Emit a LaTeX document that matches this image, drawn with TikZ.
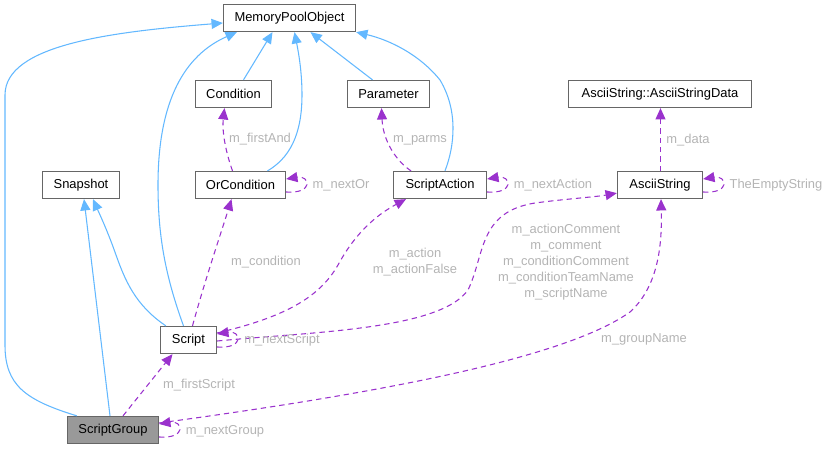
\documentclass[tikz,border=0pt]{standalone}
\usepackage{fontspec}
\setmainfont{Liberation Sans}
\usepackage{tikz}
\usetikzlibrary{arrows.meta,calc}
\usepackage{xcolor}
\definecolor{inhblue}{HTML}{63B8FF}
\definecolor{usepurple}{HTML}{9A32CD}
\definecolor{boxgray}{HTML}{666666}
\definecolor{lblgray}{HTML}{B4B4B4}
\definecolor{maingray}{HTML}{999999}

\begin{document}
\begin{tikzpicture}[x=0.75pt, y=-0.75pt,
    cls/.style={draw=boxgray, line width=0.95pt, fill=white, inner sep=0pt,
        minimum height=20.25pt, font=\fontsize{9.7}{11.6}\selectfont},
    inh/.style={draw=inhblue, line width=0.8pt, -{Triangle[length=8.5pt, width=7.5pt]}},
    usage/.style={draw=usepurple, line width=0.8pt, dash pattern=on 4pt off 3pt,
        -{Triangle[length=8.5pt, width=7.5pt]}},
    lbl/.style={text=lblgray, font=\fontsize{9.7}{12}\selectfont, align=center, inner sep=0pt}]
    \useasboundingbox (0,0) rectangle (829,449);

    \node[cls, minimum width=99pt] (mpo) at (289.5,18) {MemoryPoolObject};
    \node[cls, minimum width=57pt] (cond) at (233.5,94) {Condition};
    \node[cls, minimum width=61.5pt] (param) at (388.5,94) {Parameter};
    \node[cls, minimum width=137.25pt] (asdata) at (660,94) {AsciiString::AsciiStringData};
    \node[cls, minimum width=57.75pt] (snap) at (81,185) {Snapshot};
    \node[cls, minimum width=67.5pt] (orcond) at (240.5,185) {OrCondition};
    \node[cls, minimum width=69.75pt] (saction) at (440,185) {ScriptAction};
    \node[cls, minimum width=63.75pt] (astr) at (660,185) {AsciiString};
    \node[cls, minimum width=42pt] (script) at (188.5,340) {Script};
    \node[cls, minimum width=68.25pt, fill=maingray] (sgroup) at (113,430) {ScriptGroup};

    % inheritance
    \draw[inh] ($(sgroup.north west)+(10,0)$) .. controls (25,400) and (5,385) .. (5,345)
        -- (5,95) .. controls (5,45) and (110,32) .. ($(mpo.west)+(0,5)$);
    \draw[inh] ($(sgroup.north)+(-3,0)$) -- ($(snap.south)+(3,0)$);
    \draw[inh] ($(script.north west)+(6,0)$) .. controls (135,305) and (125,280) .. (116,255)
        .. controls (108,232) and (100,215) .. ($(snap.south)+(12,0)$);
    \draw[inh] ($(script.north)+(-5,0)$) .. controls (165,275) and (158,235) .. (158,185)
        .. controls (158,100) and (185,55) .. ($(mpo.south west)+(14,0)$);
    \draw[inh] ($(cond.north)+(10,0)$) -- ($(mpo.south)+(-17,0)$);
    \draw[inh] ($(orcond.north)+(27,0)$) .. controls (295,155) and (302,125) .. (302,95)
        .. controls (302,70) and (298,50) .. ($(mpo.south)+(5,0)$);
    \draw[inh] ($(param.north)+(-16,0)$) -- ($(mpo.south)+(21,0)$);
    \draw[inh] ($(saction.north)+(5,0)$) .. controls (455,145) and (458,110) .. (440,80)
        .. controls (420,55) and (390,40) .. (mpo.south east);

    % usage
    \draw[usage] ($(orcond.north)+(-8,0)$) .. controls (225,150) and (222,130) .. ($(cond.south)+(-9,0)$);
    \node[lbl] (lfirstand) at (260,139) {m\_firstAnd};
    \draw[usage] ($(orcond.east)+(0,7)$) .. controls +(28,2) and +(24,-4) .. ($(orcond.east)+(0,-6)$);
    \node[lbl] (lnextor) at (341,185.5) {m\_nextOr};

    \draw[usage] ($(saction.north)+(-29,0)$) .. controls (395,160) and (383,140) .. ($(param.south)+(-7,0)$);
    \node[lbl] (lparms) at (420,140) {m\_parms};
    \draw[usage] ($(saction.east)+(0,7)$) .. controls +(28,2) and +(24,-4) .. ($(saction.east)+(0,-6)$);
    \node[lbl] (lnextaction) at (553,185) {m\_nextAction};

    \draw[usage] ($(astr.north)+(0.5,0)$) -- ($(asdata.south)+(0.5,0)$);
    \node[lbl] (ldata) at (688,140) {m\_data};
    \draw[usage] ($(astr.east)+(0,7)$) .. controls +(28,2) and +(24,-4) .. ($(astr.east)+(0,-6)$);
    \node[lbl] (lempty) at (776,185) {TheEmptyString};

    \draw[usage] ($(script.north)+(4,0)$) .. controls (205,280) and (222,230) .. ($(orcond.south)+(-9,0)$);
    \node[lbl] (lcondition) at (266,262) {m\_condition};

    \draw[usage] ($(script.east)+(0,-7)$) .. controls (280,318) and (318,300) .. (338,265)
        .. controls (358,228) and (382,212) .. ($(saction.south)+(-34,0)$);
    \node[lbl] (laction) at (415,262) {m\_action\\m\_actionFalse};

    \draw[usage] ($(script.east)+(0,1)$) .. controls (310,332) and (440,330) .. (468,290)
        .. controls (485,255) and (478,212) .. (535,203) .. controls (565,199) and (595,197) .. ($(astr.south west)+(0,-6)$);
    \node[lbl] (lcomment) at (566,262) {m\_actionComment\\m\_comment\\m\_conditionComment\\m\_conditionTeamName\\m\_scriptName};

    \draw[usage] ($(sgroup.east)+(0,-7)$) .. controls (350,397) and (560,362) .. (630,312)
        .. controls (660,285) and (662,240) .. ($(astr.south)+(1,0)$);
    \node[lbl] (lgroupname) at (644,339) {m\_groupName};

    \draw[usage] ($(script.east)+(0,7)$) .. controls +(28,2) and +(24,-4) .. ($(script.east)+(0,-6)$);
    \node[lbl] (lnextscript) at (282,340) {m\_nextScript};

    \draw[usage] ($(sgroup.north)+(10,0)$) -- ($(script.south)+(-16,0)$);
    \node[lbl] (lfirstscript) at (199,385) {m\_firstScript};
    \draw[usage] ($(sgroup.east)+(0,7)$) .. controls +(28,2) and +(24,-4) .. ($(sgroup.east)+(0,-6)$);
    \node[lbl] (lnextgroup) at (225,431) {m\_nextGroup};
\end{tikzpicture}
\end{document}
